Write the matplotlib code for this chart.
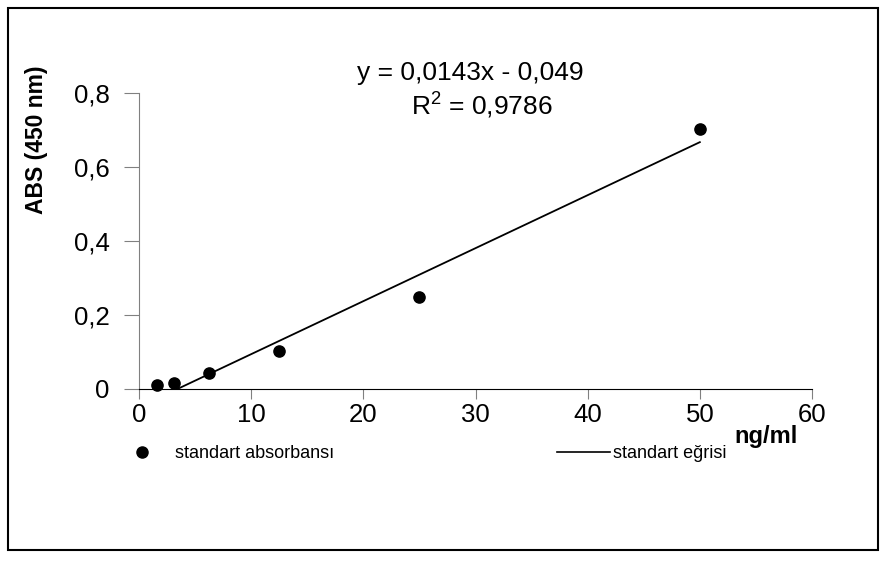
import matplotlib
matplotlib.use("Agg")
import matplotlib.pyplot as plt
from matplotlib.lines import Line2D
from matplotlib.patches import Rectangle
import numpy as np

plt.rcParams['font.family'] = ['Liberation Sans', 'DejaVu Sans']

# standard concentrations (ng/ml) and absorbance at 450 nm
conc = [1.5625, 3.125, 6.25, 12.5, 25, 50]
absorb = [0.012, 0.015, 0.043, 0.102, 0.248, 0.702]

# linear trendline as reported
slope = 0.0143
intercept = -0.049
r_squared = 0.9786

x_ticks = [0, 10, 20, 30, 40, 50, 60]
y_ticks = [0, 0.2, 0.4, 0.6, 0.8]
y_tick_labels = ["0", "0,2", "0,4", "0,6", "0,8"]

W, H = 888, 563
fig = plt.figure(figsize=(W / 100, H / 100), dpi=100)
ax = fig.add_axes([139 / W, 1 - 389 / H, (812 - 139) / W, (389 - 92.5) / H])

ax.scatter(conc, absorb, s=65, color="black", zorder=3, clip_on=False)
fit_x = np.array([min(conc), max(conc)])
ax.plot(fit_x, slope * fit_x + intercept, color="black", lw=1.3)

ax.set_xlim(0, 60)
ax.set_ylim(0, 0.8)
ax.set_xticks(x_ticks)
ax.set_yticks(y_ticks)
ax.set_yticklabels(y_tick_labels)

for side in ["top", "right"]:
    ax.spines[side].set_visible(False)
ax.spines["left"].set_color("#808080")
ax.spines["bottom"].set_color("black")
ax.tick_params(axis="x", length=7, color="#808080", labelsize=18.5, pad=3)
ax.tick_params(axis="y", length=11, color="#808080", labelsize=18.5, pad=10)

ax.set_ylabel("ABS (450 nm)", fontsize=16.5, fontweight="bold")
ax.yaxis.set_label_coords((48 - 139) / 673, (389 - 140) / 296.5)
fig.text(766 / W, 1 - 437 / H, "ng/ml", fontsize=17, fontweight="bold",
         ha="center", va="center")

eq = f"y = {slope:.4f}x - {abs(intercept):.3f}".replace(".", ",")
r2 = f"$\\mathregular{{R^2}}$ = {r_squared:.4f}".replace(".", ",")
fig.text(470 / W, 1 - 73 / H, eq, fontsize=19, ha="center", va="center")
fig.text(482 / W, 1 - 106 / H, r2, fontsize=19, ha="center", va="center")

# legend below plot, two separate entries
leg_font = 13
em = leg_font * 100 / 72
leg1 = fig.legend([Line2D([], [], marker="o", color="black", ls="none", markersize=8)],
                  ["standart absorbansı"], loc="center left",
                  bbox_to_anchor=(133 / W, 1 - 454 / H), frameon=False,
                  fontsize=leg_font, borderpad=0, borderaxespad=0,
                  handlelength=18 / em, handletextpad=24 / em)
leg2 = fig.legend([Line2D([], [], color="black", lw=1.2)],
                  ["standart eğrisi"], loc="center left",
                  bbox_to_anchor=(557 / W, 1 - 454 / H), frameon=False,
                  fontsize=leg_font, borderpad=0, borderaxespad=0,
                  handlelength=53 / em, handletextpad=3 / em)

# outer chart border
fig.patches.append(Rectangle((8 / W, 1 - 550 / H), (878 - 8) / W, (550 - 8) / H,
                             transform=fig.transFigure, fill=False,
                             edgecolor="black", lw=1.5))

fig.savefig("out.png", dpi=100)
